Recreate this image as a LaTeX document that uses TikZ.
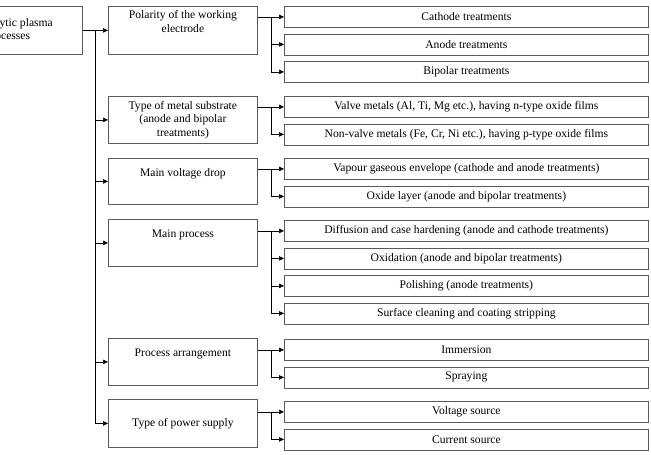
\documentclass[tikz,border=0pt]{standalone}
\usepackage{fontspec}
\setmainfont{Liberation Serif}
\usetikzlibrary{positioning,arrows.meta,calc}
\definecolor{cBorder}{HTML}{5A5A5A}
\tikzset{
  catBox/.style={draw=cBorder, line width=0.8pt, minimum width=149pt, minimum height=47pt,
                 inner sep=2pt, align=center, anchor=north west},
  leafBox/.style={draw=cBorder, line width=0.8pt, minimum width=364pt, minimum height=21pt,
                  inner sep=0pt, anchor=north west},
  link/.style={line width=0.6pt},
  linkArr/.style={link, -{Triangle[length=5pt, width=4.5pt]}},
}

\begin{document}
\begin{tikzpicture}[x=1pt, y=-1pt, font=\fontsize{11.6}{13.6}\selectfont]
\useasboundingbox (0,0) rectangle (651,455);
\clip (0,0) rectangle (651,455);

% ========== ROOT AND CATEGORIES ==========
\node[catBox, minimum height=48pt] (root) at (-67,6) {Electrolytic plasma\\processes};

\node[catBox, minimum height=48pt] (pol) at (108,6)
  {Polarity of the working\\electrode\\ \strut};
\node[catBox] (sub) at (108,96)
  {Type of metal substrate\\(anode and bipolar\\treatments)};
\node[catBox, minimum height=46pt] (drop) at (108,158) {Main voltage drop\\ \strut};
\node[catBox] (proc) at (108,219) {Main process\\ \strut};
\node[catBox] (arr) at (108,338) {Process arrangement\\ \strut};
\node[catBox, minimum height=48pt] (sup) at (108,399) {Type of power supply};

% ========== OPTIONS ==========
\foreach \t [count=\i] in {Cathode treatments, Anode treatments, Bipolar treatments}
  \node[leafBox] (pol-\i) at (284, 6+\i*27.5-27.5) {\t};

\foreach \t [count=\i] in {{Valve metals (Al, Ti, Mg etc.), having n-type oxide films},
                           {Non-valve metals (Fe, Cr, Ni etc.), having p-type oxide films}}
  \node[leafBox] (sub-\i) at (284, 96+\i*27.5-27.5) {\t};

\foreach \t [count=\i] in {Vapour gaseous envelope (cathode and anode treatments),
                           Oxide layer (anode and bipolar treatments)}
  \node[leafBox] (drop-\i) at (284, 158+\i*27.5-27.5) {\t};

\foreach \t [count=\i] in {Diffusion and case hardening (anode and cathode treatments),
                           Oxidation (anode and bipolar treatments),
                           Polishing (anode treatments),
                           Surface cleaning and coating stripping}
  \node[leafBox] (proc-\i) at (284, 220+\i*27.5-27.5) {\t};

\foreach \t [count=\i] in {Immersion, Spraying}
  \node[leafBox] (arr-\i) at (284, 339+\i*27.5-27.5) {\t};

\foreach \t [count=\i] in {Voltage source, Current source}
  \node[leafBox] (sup-\i) at (284, 401+\i*27.5-27.5) {\t};

% ========== CONNECTORS ==========
\coordinate (trunk) at ($(root.east)!.5!(pol.west)$);
\draw[linkArr] (root.east) -- (pol.west);
\foreach \c in {sub, drop, proc, arr, sup}
  \draw[linkArr] (trunk) |- (\c.west);

\foreach \c/\n in {pol/3, sub/2, drop/2, proc/4, arr/2, sup/2} {
  \draw[linkArr] (\c.east |- \c-1.west) -- (\c-1.west);
  \coordinate (br) at ($(\c.east |- \c-1.west)!.5!(\c-1.west)$);
  \foreach \k in {2,...,\n}
    \draw[linkArr] (br) |- (\c-\k.west);
}

\end{tikzpicture}
\end{document}
